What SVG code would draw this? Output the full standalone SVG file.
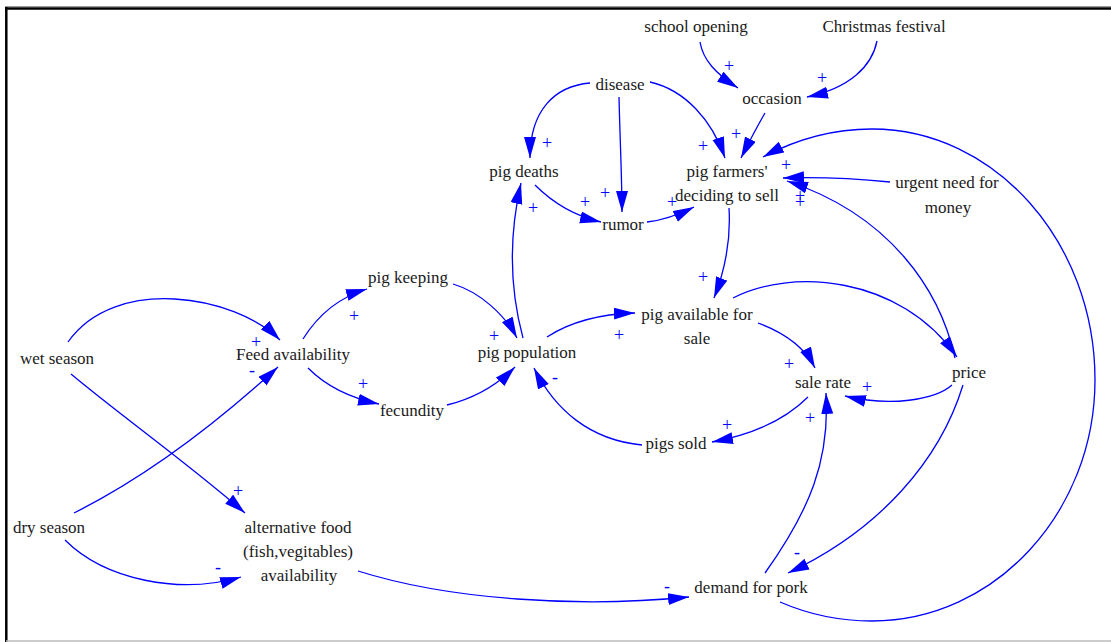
<svg xmlns="http://www.w3.org/2000/svg" width="1111" height="642" viewBox="0 0 1111 642">
<style>
.n{font-family:"Liberation Serif","Times New Roman",serif;font-size:17px;fill:#1a1a1a;text-anchor:middle}
.s{font-family:"Liberation Serif","Times New Roman",serif;font-size:18px;fill:#0000ff;text-anchor:middle}
.c path{fill:none;stroke:#0000ff;stroke-width:1.3;marker-end:url(#ah)}
</style>
<defs>
<marker id="ah" markerUnits="userSpaceOnUse" markerWidth="22" markerHeight="13" refX="21" refY="6" orient="auto">
<path d="M0,0 L21,6 L0,12 z" fill="#0000ff"/>
</marker>
</defs>
<rect x="0" y="0" width="1111" height="642" fill="#fff"/>
<g id="frame">
<line x1="5" y1="6.5" x2="1111" y2="6.5" stroke="#999" stroke-width="1"/>
<line x1="5" y1="8.5" x2="1111" y2="8.5" stroke="#000" stroke-width="2.5"/>
<line x1="6.3" y1="7" x2="6.3" y2="642" stroke="#000" stroke-width="2.5"/>
<line x1="6" y1="641" x2="1111" y2="641" stroke="#bbb" stroke-width="1.5"/>
</g>
<g class="c" id="connectors">
<path d="M700,42 C703,60 716,74 738,88"/>
<path d="M877,41 C872,66 850,88 807,97"/>
<path d="M590,83 C555,86 530,110 530,158"/>
<path d="M619,97 C620,140 622,180 622,212"/>
<path d="M650,82 C685,90 712,120 725,158"/>
<path d="M765,113 C758,125 750,140 741,158"/>
<path d="M535,185 C550,200 570,215 601,222"/>
<path d="M647,222 C665,220 680,214 694,207"/>
<path d="M523,338 C510,290 508,240 521,183"/>
<path d="M890,182 C850,178 815,177 783,178"/>
<path d="M955,358 C940,290 890,215 787,181"/>
<path d="M780,602 C810,615 840,621 872,621 C995,621 1095,512 1095,380 C1095,242 995,129 872,129 C830,129 795,140 763,157"/>
<path d="M729,208 C731,240 725,270 714,298"/>
<path d="M453,284 C480,292 505,315 517,338"/>
<path d="M303,339 C318,315 340,297 367,289"/>
<path d="M308,368 C325,385 350,398 379,404"/>
<path d="M447,405 C475,398 497,385 515,367"/>
<path d="M68,342 C115,275 235,295 280,340"/>
<path d="M74,513 C150,475 220,420 278,367"/>
<path d="M71,374 C120,415 190,465 245,513"/>
<path d="M65,540 C105,580 180,595 241,577"/>
<path d="M358,571 C450,600 580,608 689,597"/>
<path d="M547,337 C570,322 600,314 635,313"/>
<path d="M733,298 C790,268 900,275 957,357"/>
<path d="M758,323 C785,333 805,348 815,368"/>
<path d="M952,385 C935,400 890,407 845,396"/>
<path d="M808,397 C785,420 750,435 712,442"/>
<path d="M642,445 C590,440 555,410 534,368"/>
<path d="M765,573 C810,510 830,460 826,393"/>
<path d="M963,385 C940,460 880,530 788,573"/>
</g>
<g id="signs">
<text class="s" x="729" y="72">+</text>
<text class="s" x="822" y="84">+</text>
<text class="s" x="547" y="149">+</text>
<text class="s" x="605" y="199">+</text>
<text class="s" x="585" y="208">+</text>
<text class="s" x="533" y="214">+</text>
<text class="s" x="703" y="152">+</text>
<text class="s" x="736" y="140">+</text>
<text class="s" x="672" y="208">+</text>
<text class="s" x="786" y="171">+</text>
<text class="s" x="800" y="202">+</text>
<text class="s" x="800" y="208">+</text>
<text class="s" x="703" y="283">+</text>
<text class="s" x="354" y="322">+</text>
<text class="s" x="363" y="390">+</text>
<text class="s" x="494" y="342">+</text>
<text class="s" x="256" y="348">+</text>
<text class="s" x="252" y="376">-</text>
<text class="s" x="238" y="497">+</text>
<text class="s" x="218" y="573">-</text>
<text class="s" x="667" y="592">-</text>
<text class="s" x="619" y="341">+</text>
<text class="s" x="789" y="370">+</text>
<text class="s" x="867" y="393">+</text>
<text class="s" x="727" y="431">+</text>
<text class="s" x="555" y="383">-</text>
<text class="s" x="810" y="424">+</text>
<text class="s" x="797" y="558">-</text>
</g>
<g id="school-opening"><text class="n" x="696" y="32">school opening</text></g>
<g id="christmas-festival"><text class="n" x="884" y="32">Christmas festival</text></g>
<g id="occasion"><text class="n" x="772" y="104">occasion</text></g>
<g id="disease"><text class="n" x="620" y="90">disease</text></g>
<g id="pig-deaths"><text class="n" x="524" y="177">pig deaths</text></g>
<g id="pig-farmers-deciding"><text class="n" x="727" y="177">pig farmers'</text><text class="n" x="727" y="201">deciding to sell</text></g>
<g id="urgent-need"><text class="n" x="947" y="188">urgent need for</text><text class="n" x="948" y="213">money</text></g>
<g id="rumor"><text class="n" x="623" y="230">rumor</text></g>
<g id="pig-keeping"><text class="n" x="408" y="283">pig keeping</text></g>
<g id="wet-season"><text class="n" x="57" y="364">wet season</text></g>
<g id="feed-availability"><text class="n" x="293" y="360">Feed availability</text></g>
<g id="pig-population"><text class="n" x="527" y="358">pig population</text></g>
<g id="pig-available"><text class="n" x="697" y="320">pig available for</text><text class="n" x="697" y="344">sale</text></g>
<g id="sale-rate"><text class="n" x="823" y="388">sale rate</text></g>
<g id="price"><text class="n" x="969" y="378">price</text></g>
<g id="fecundity"><text class="n" x="412" y="416">fecundity</text></g>
<g id="pigs-sold"><text class="n" x="676" y="449">pigs sold</text></g>
<g id="dry-season"><text class="n" x="49" y="533">dry season</text></g>
<g id="alternative-food"><text class="n" x="298" y="533">alternative food</text><text class="n" x="298" y="557">(fish,vegitables)</text><text class="n" x="299" y="581">availability</text></g>
<g id="demand-for-pork"><text class="n" x="751" y="593">demand for pork</text></g>
</svg>
